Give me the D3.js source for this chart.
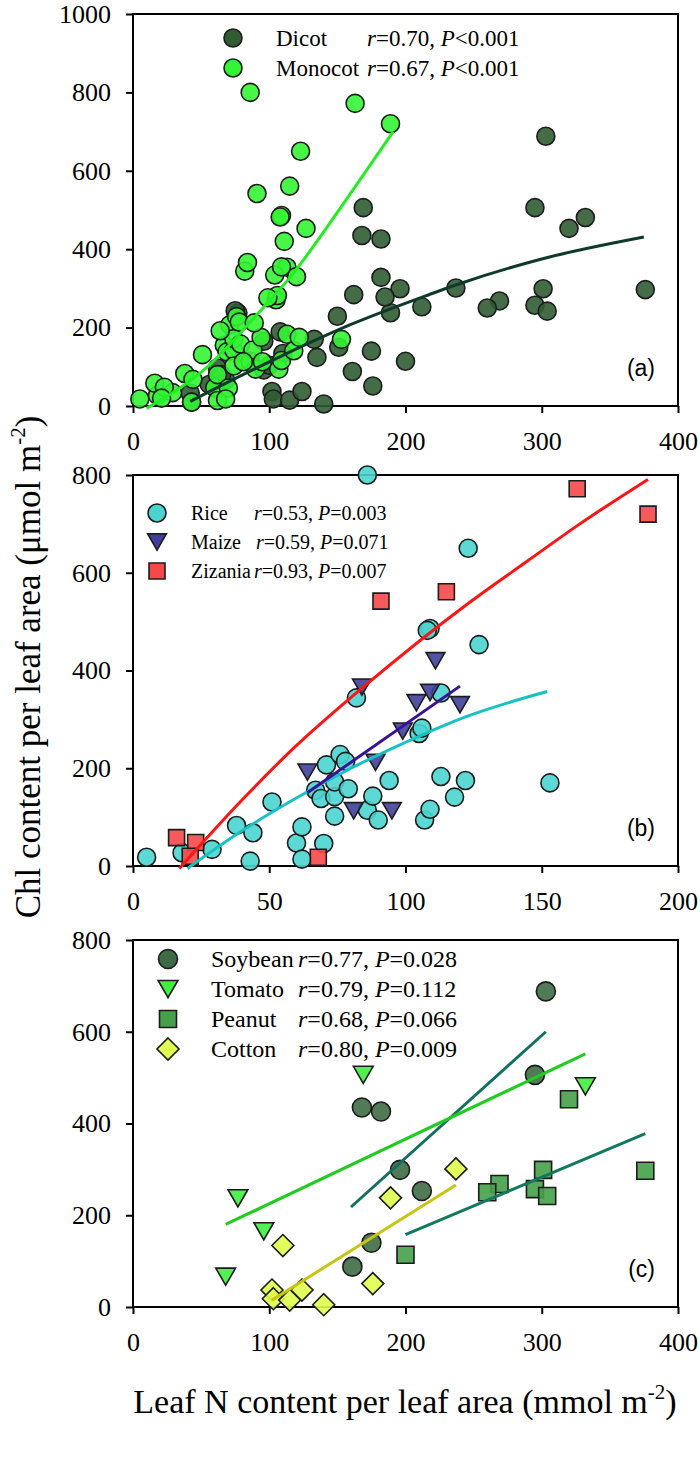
<!DOCTYPE html>
<html><head><meta charset="utf-8">
<script src="https://cdn.jsdelivr.net/npm/d3@7"></script>
<style>body{margin:0;background:#fff}svg{display:block}</style>
</head><body>
<svg id="chart" width="700" height="1459"></svg>
<script>
// ---------- data ----------
const soybean = [[303,688],[295,506],[168,435],[182,426],[196,299],[212,253],[175,140],[161,88]];
const tomato  = [[169,506],[332,481],[77,237],[96,165],[68,66]];
const peanut  = [[320,453],[376,297],[301,299],[269,268],[260,250],[295,257],[304,242],[200,114]];
const cotton  = [[237,301],[189,238],[110,134],[102,37],[103,18],[115,15],[124,37],[140,5],[176,51]];
const dicotOther = [[182,328],[162,284],[185,278],[150,229],[151,150],[133,170],[135,124],[108,189],[75,243],[96,92],[100,104],[62,97],[65,80],[56,55],[42,33],[43,10]];

const rice = [[5,18],[18,27],[29,34],[38,83],[43,10],[44,68],[51,131],[60,47],[62,80],[62,14],[67,155],[69,138],[70,46],[71,207],[74,142],[74,102],[74,172],[76,228],[78,214],[79,158],[82,344],[86,800],[86,114],[88,143],[90,94],[94,175],[107,94],[109,116],[105,271],[106,282],[109,486],[108,482],[113,354],[113,183],[118,141],[122,175],[123,650],[127,453],[153,170]];
const maize = [[64,192],[84,366],[89,212],[81,113],[95,113],[99,276],[104,334],[109,355],[111,420],[120,330]];
const zizania = [[16,58],[23,48],[21,20],[68,18],[91,542],[115,561],[163,772],[189,720]];

const dicot = [...soybean, ...tomato, ...peanut, ...cotton, ...dicotOther];
const monocot = [...rice, ...maize, ...zizania];

// fitted curves
const dicotFit   = [[42,12],[80,79],[108,126],[160,208],[218,285],[238,310],[300,375],[375,431]];
const monocotFit = [[10,-6],[55,101],[92,237],[114,323],[162,554],[191,700]];
const riceFit    = [[20,-5],[40,72],[58,133],[80,200],[106,268],[122,305],[152,357]];
const maizeFit   = [[64,150],[120,368]];
const zizaniaFit = [[17,-5],[40,135],[58,236],[86,373],[122,533],[145,625],[164,700],[189,791]];
const soybeanFit = [[160,218],[303,600]];
const tomatoFit  = [[68,180],[332,552]];
const peanutFit  = [[200,158],[376,378]];
const cottonFit  = [[102,15],[237,266]];

// ticks
const xTicksA = [0,100,200,300,400], yTicksA = [0,200,400,600,800,1000];
const xTicksB = [0,50,100,150,200],  yTicksB = [0,200,400,600,800];
const xTicksC = [0,100,200,300,400], yTicksC = [0,200,400,600,800];

// legend texts
const legendA = [["Dicot","0.70","<0.001"],["Monocot","0.67","<0.001"]];
const legendB = [["Rice","0.53","=0.003"],["Maize","0.59","=0.071"],["Zizania","0.93","=0.007"]];
const legendC = [["Soybean","0.77","=0.028"],["Tomato","0.79","=0.112"],["Peanut","0.68","=0.066"],["Cotton","0.80","=0.009"]];

// ---------- drawing ----------
const svg = d3.select("#chart");
const SERIF = "'Liberation Serif','Times New Roman',serif";
const SANS = "'Liberation Sans',Arial,sans-serif";
const L = 133, R = 678;

function shape(type, s) {
  switch (type) {
    case "tri": return `M${-s*0.52},${-s*0.45}L${s*0.52},${-s*0.45}L0,${s*0.45}Z`;
    case "sq": return `M${-s/2},${-s/2}h${s}v${s}h${-s}Z`;
    case "dia": return `M0,${-s/2}L${s/2},0L0,${s/2}L${-s/2},0Z`;
  }
}
const circ = r => d3.arc()({innerRadius:0,outerRadius:r,startAngle:0,endAngle:2*Math.PI});

function panel(cfg) {
  const x = d3.scaleLinear().domain(cfg.xd).range([L, R]);
  const y = d3.scaleLinear().domain(cfg.yd).range([cfg.bottom, cfg.top]);
  const g = svg.append("g");
  const fmt = d3.format("d");
  const ax = g.append("g").attr("transform", `translate(0,${cfg.bottom})`)
    .call(d3.axisBottom(x).tickValues(cfg.xt).tickFormat(fmt).tickSize(7).tickSizeOuter(0).tickPadding(19));
  const ay = g.append("g").attr("transform", `translate(${L},0)`)
    .call(d3.axisLeft(y).tickValues(cfg.yt).tickFormat(fmt).tickSize(7).tickSizeOuter(0).tickPadding(15));
  [ax, ay].forEach(a => {
    a.attr("font-family", SERIF).attr("font-size", 26);
    a.select(".domain").remove();
    a.selectAll(".tick line").attr("stroke", "#000").attr("stroke-width", 2);
    a.selectAll(".tick text").style("font-family", SERIF).style("font-size", "26px").attr("fill", "#000");
  });
  g.append("rect").attr("x", L).attr("y", cfg.top).attr("width", R - L).attr("height", cfg.bottom - cfg.top)
    .attr("fill", "none").attr("stroke", "#000").attr("stroke-width", 2);
  cfg.series.forEach(s => {
    g.append("g").selectAll("path").data(s.data).join("path")
      .attr("transform", d => `translate(${x(d[0])},${y(d[1])})`)
      .attr("d", s.type === "circle" ? circ(s.size / 2) : shape(s.type, s.size))
      .attr("fill", s.fill).attr("fill-opacity", 0.9)
      .attr("stroke", "#1c1c1c").attr("stroke-width", 1.6);
  });
  const line = d3.line().x(d => x(d[0])).y(d => y(d[1])).curve(d3.curveMonotoneX);
  cfg.fits.forEach(f => {
    g.append("path").attr("d", line(f.data)).attr("fill", "none").attr("stroke", f.color).attr("stroke-width", 3);
  });
  cfg.legend.forEach((row, i) => {
    const s = cfg.series[i];
    const cy = cfg.leg.y0 + i * cfg.leg.dy;
    g.append("path").attr("transform", `translate(${cfg.leg.mx},${cy})`)
      .attr("d", s.type === "circle" ? circ(s.size / 2) : shape(s.type, s.size))
      .attr("fill", s.fill).attr("stroke", "#1c1c1c").attr("stroke-width", 1.6);
    const by = cy + cfg.leg.base;
    g.append("text").attr("x", cfg.leg.nx).attr("y", by).attr("font-family", SERIF).attr("font-size", cfg.leg.fs).text(row[0]);
    const t = g.append("text").attr("x", cfg.leg.sx[i]).attr("y", by).attr("font-family", SERIF).attr("font-size", cfg.leg.fs);
    t.append("tspan").attr("font-style", "italic").text("r");
    t.append("tspan").text("=" + row[1] + ", ");
    t.append("tspan").attr("font-style", "italic").text("P");
    t.append("tspan").text(row[2]);
  });
  g.append("text").attr("x", 655).attr("y", cfg.bottom - 30).attr("text-anchor", "end")
    .attr("font-family", SANS).attr("font-size", 23).text(cfg.label);
}

panel({
  top: 14, bottom: 406, xd: [0, 400], yd: [0, 1000], xt: xTicksA, yt: yTicksA, label: "(a)",
  series: [
    {data: dicot, fill: "#2f5c33", type: "circle", size: 18},
    {data: monocot, fill: "#33f533", type: "circle", size: 18}
  ],
  fits: [{data: dicotFit, color: "#0e3a2c"}, {data: monocotFit, color: "#22ee22"}],
  legend: legendA,
  leg: {mx: 233, y0: 38, dy: 30, nx: 276, sx: [367, 367], base: 8, fs: 23}
});

panel({
  top: 475, bottom: 866, xd: [0, 200], yd: [0, 800], xt: xTicksB, yt: yTicksB, label: "(b)",
  series: [
    {data: rice, fill: "#4ad4d0", type: "circle", size: 18},
    {data: maize, fill: "#40409c", type: "tri", size: 18},
    {data: zizania, fill: "#f54848", type: "sq", size: 16}
  ],
  fits: [{data: riceFit, color: "#17c2c2"}, {data: maizeFit, color: "#3a1296"}, {data: zizaniaFit, color: "#ff1414"}],
  legend: legendB,
  leg: {mx: 157, y0: 513, dy: 29, nx: 191, sx: [254, 256, 254], base: 7, fs: 20}
});

panel({
  top: 940, bottom: 1307, xd: [0, 400], yd: [0, 800], xt: xTicksC, yt: yTicksC, label: "(c)",
  series: [
    {data: soybean, fill: "#3e6b44", type: "circle", size: 19},
    {data: tomato, fill: "#3ff03f", type: "tri", size: 19},
    {data: peanut, fill: "#45a049", type: "sq", size: 17},
    {data: cotton, fill: "#e0ff4e", type: "dia", size: 22}
  ],
  fits: [{data: soybeanFit, color: "#137060"}, {data: tomatoFit, color: "#1fcc1f"}, {data: peanutFit, color: "#12785e"}, {data: cottonFit, color: "#c8c414"}],
  legend: legendC,
  leg: {mx: 168, y0: 959, dy: 30, nx: 211, sx: [298, 298, 298, 298], base: 8, fs: 24}
});

// axis titles
const xt = svg.append("text").attr("x", 405).attr("y", 1413).attr("text-anchor", "middle")
  .attr("font-family", SERIF).attr("font-size", 34);
xt.append("tspan").text("Leaf N content per leaf area (mmol m");
xt.append("tspan").attr("font-size", 21).attr("dy", -14).text("-2");
xt.append("tspan").attr("dy", 14).text(")");

const yt = svg.append("text").attr("transform", "translate(40,667) rotate(-90)").attr("text-anchor", "middle")
  .attr("font-family", SERIF).attr("font-size", 35);
yt.append("tspan").text("Chl content per leaf area (\u03bcmol m");
yt.append("tspan").attr("font-size", 21).attr("dy", -15).text("-2");
yt.append("tspan").attr("dy", 15).text(")");
</script>
</body></html>
